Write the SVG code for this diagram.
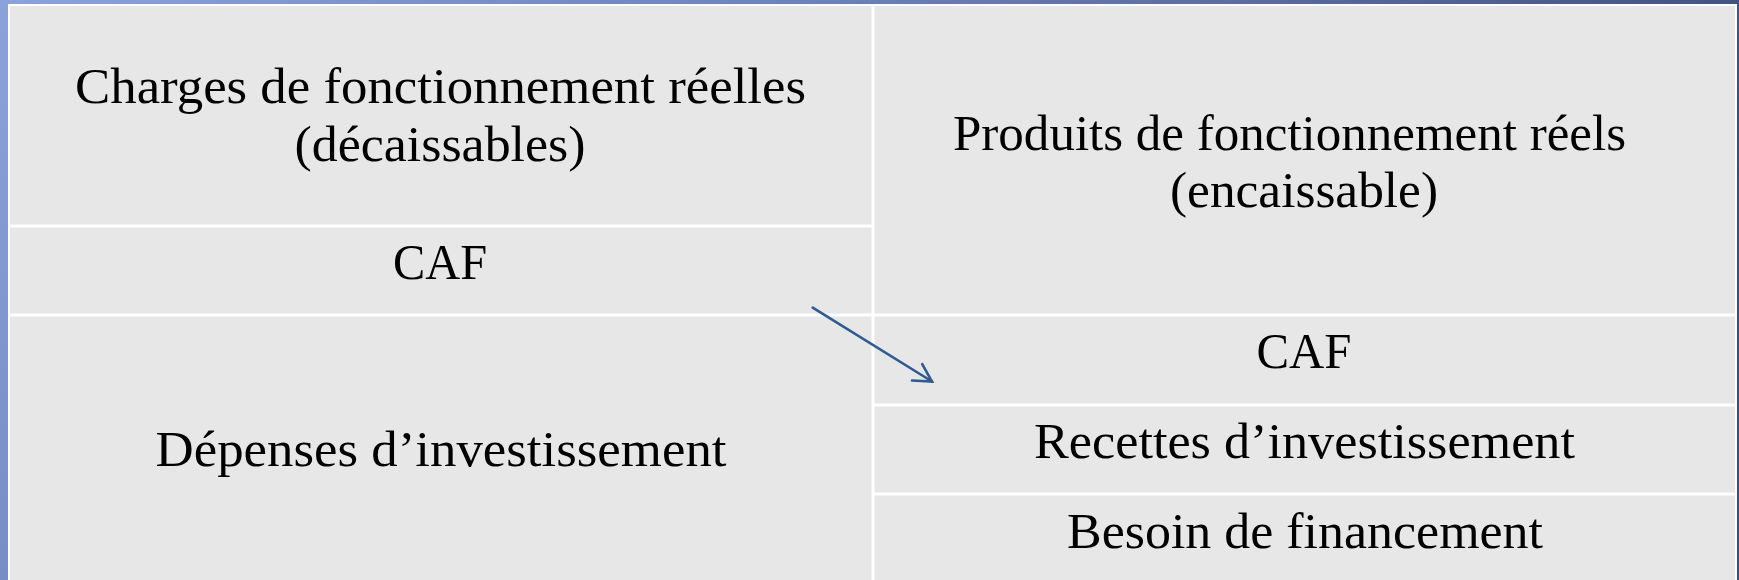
<svg xmlns="http://www.w3.org/2000/svg" width="1739" height="580" viewBox="0 0 1739 580">
<defs>
<linearGradient id="bg" x1="0" y1="0" x2="1" y2="0.3">
<stop offset="0" stop-color="#8ba2de"/>
<stop offset="0.45" stop-color="#6b80b8"/>
<stop offset="1" stop-color="#3c4c78"/>
</linearGradient>
<marker id="arr" markerUnits="userSpaceOnUse" markerWidth="40" markerHeight="40" viewBox="-30 -20 40 40" refX="0" refY="0" orient="auto">
<path d="M -17.5 -9.7 L 0 0 L -17.5 9.7" fill="none" stroke="#2f5a92" stroke-width="2.6" stroke-linecap="round" stroke-linejoin="miter"/>
</marker>
<style>
.cell{fill:#e7e7e7;}
.grid{stroke:#ffffff;stroke-width:3;fill:none;}
.t{font-family:"Liberation Serif","Times New Roman",serif;font-size:50px;fill:#000000;text-anchor:middle;}
.conn{stroke:#2f5a92;stroke-width:2.6;fill:none;stroke-linecap:round;}
</style>
</defs>
<rect x="0" y="0" width="1739" height="580" fill="url(#bg)"/>
<rect x="9" y="5" width="1727" height="590" class="cell" stroke="#ffffff" stroke-width="2"/>
<g id="grid">
<line class="grid" x1="873" y1="5" x2="873" y2="580"/>
<line class="grid" x1="9" y1="226" x2="873" y2="226"/>
<line class="grid" x1="9" y1="315" x2="1736" y2="315"/>
<line class="grid" x1="873" y1="405" x2="1736" y2="405"/>
<line class="grid" x1="873" y1="494" x2="1736" y2="494"/>
</g>
<g id="charges">
<text class="t" x="440.5" y="103" textLength="731" lengthAdjust="spacingAndGlyphs">Charges de fonctionnement réelles</text>
<text class="t" x="440" y="161" textLength="291" lengthAdjust="spacingAndGlyphs">(décaissables)</text>
</g>
<g id="caf-left">
<text class="t" x="440" y="279" textLength="94" lengthAdjust="spacingAndGlyphs">CAF</text>
</g>
<g id="depenses">
<text class="t" x="441" y="466" textLength="571" lengthAdjust="spacingAndGlyphs">Dépenses d’investissement</text>
</g>
<g id="produits">
<text class="t" x="1289.5" y="150" textLength="673" lengthAdjust="spacingAndGlyphs">Produits de fonctionnement réels</text>
<text class="t" x="1304" y="207" textLength="268" lengthAdjust="spacingAndGlyphs">(encaissable)</text>
</g>
<g id="caf-right">
<text class="t" x="1304" y="368" textLength="95" lengthAdjust="spacingAndGlyphs">CAF</text>
</g>
<g id="recettes">
<text class="t" x="1304.5" y="458" textLength="541" lengthAdjust="spacingAndGlyphs">Recettes d’investissement</text>
</g>
<g id="besoin">
<text class="t" x="1305" y="548" textLength="476" lengthAdjust="spacingAndGlyphs">Besoin de financement</text>
</g>
<g id="connectors">
<line class="conn" x1="812.7" y1="307.7" x2="932" y2="381.5" marker-end="url(#arr)"/>
</g>
</svg>
